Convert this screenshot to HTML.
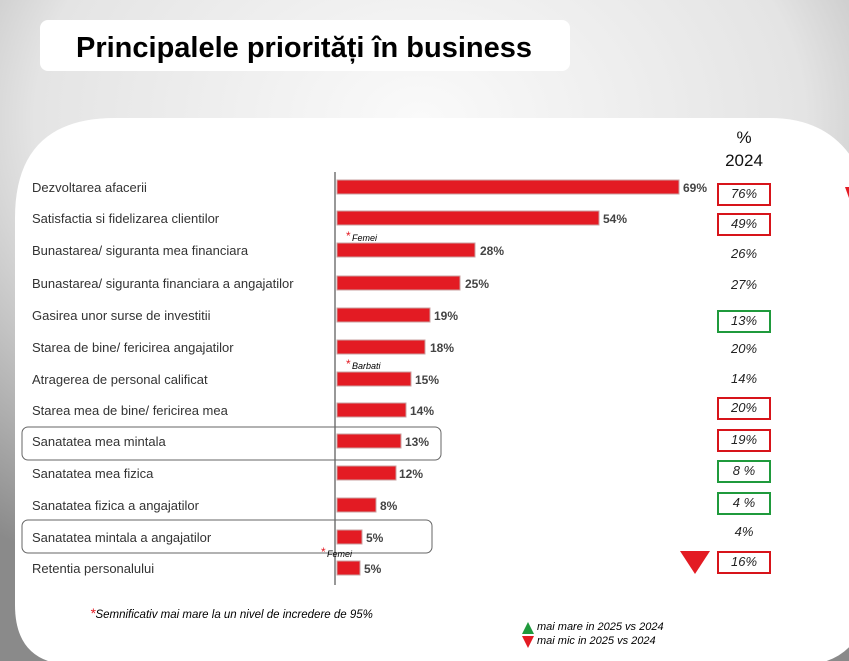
<!DOCTYPE html>
<html><head><meta charset="utf-8"><style>
html,body{margin:0;padding:0;width:849px;height:661px;overflow:hidden}
body{background:radial-gradient(ellipse 700px 520px at 420px 120px,#fafafa 0%,#e4e4e4 55%,#8a8a8a 100%);position:relative;font-family:"Liberation Sans",sans-serif}
svg{display:block}
</style></head><body>
<svg width="849" height="661" style="position:absolute;left:0;top:0" xmlns="http://www.w3.org/2000/svg">
<rect x="40" y="20" width="530" height="51" rx="8" fill="#fff"/>
<text x="76" y="57" font-family="Liberation Sans, sans-serif" font-weight="bold" font-size="29" fill="#000" textLength="456" lengthAdjust="spacingAndGlyphs">Principalele priorități în business</text>
<path d="M115,118 H770 Q849,118 870,200 V600 Q860,665 800,665 H75 Q15,665 15,605 V218 Q15,118 115,118 Z" fill="#fff"/>
<g font-family="Liberation Sans, sans-serif" font-size="13" fill="#333">
<line x1="335" y1="172" x2="335" y2="585" stroke="#777" stroke-width="1.5"/>
<g fill="#e31b23" stroke="#c9a0a0" stroke-width="1">
<rect x="337" y="180" width="342" height="14"/>
<rect x="337" y="211" width="262" height="14"/>
<rect x="337" y="243" width="138" height="14"/>
<rect x="337" y="276" width="123" height="14"/>
<rect x="337" y="308" width="93" height="14"/>
<rect x="337" y="340" width="88" height="14"/>
<rect x="337" y="372" width="74" height="14"/>
<rect x="337" y="403" width="69" height="14"/>
<rect x="337" y="434" width="64" height="14"/>
<rect x="337" y="466" width="59" height="14"/>
<rect x="337" y="498" width="39" height="14"/>
<rect x="337" y="530" width="25" height="14"/>
<rect x="337" y="561" width="23" height="14"/>
</g>
<text x="32" y="192">Dezvoltarea afacerii</text>
<text x="32" y="223">Satisfactia si fidelizarea clientilor</text>
<text x="32" y="255">Bunastarea/ siguranta mea financiara</text>
<text x="32" y="288">Bunastarea/ siguranta financiara a angajatilor</text>
<text x="32" y="320">Gasirea unor surse de investitii</text>
<text x="32" y="352">Starea de bine/ fericirea angajatilor</text>
<text x="32" y="384">Atragerea de personal calificat</text>
<text x="32" y="415">Starea mea de bine/ fericirea mea</text>
<text x="32" y="446">Sanatatea mea mintala</text>
<text x="32" y="478">Sanatatea mea fizica</text>
<text x="32" y="510">Sanatatea fizica a angajatilor</text>
<text x="32" y="542">Sanatatea mintala a angajatilor</text>
<text x="32" y="573">Retentia personalului</text>
<g font-weight="bold" font-size="12" fill="#444">
<text x="683" y="192">69%</text><text x="603" y="223">54%</text><text x="480" y="255">28%</text>
<text x="465" y="288">25%</text><text x="434" y="320">19%</text><text x="430" y="352">18%</text>
<text x="415" y="384">15%</text><text x="410" y="415">14%</text><text x="405" y="446">13%</text>
<text x="399" y="478">12%</text><text x="380" y="510">8%</text><text x="366" y="542">5%</text><text x="364" y="573">5%</text>
</g>
<rect x="22" y="427" width="419" height="33" rx="6" fill="none" stroke="#666"/>
<rect x="22" y="520" width="410" height="33" rx="6" fill="none" stroke="#666"/>
<g font-size="9" font-style="italic" fill="#000"><text x="352" y="241">Femei</text><text x="352" y="369">Barbati</text><text x="327" y="557">Femei</text></g>
<g fill="#e31b23" font-size="12"><text x="346" y="240">*</text><text x="346" y="368">*</text><text x="321" y="556">*</text></g>
<text x="744" y="143" text-anchor="middle" font-size="17" fill="#111">%</text>
<text x="744" y="166" text-anchor="middle" font-size="17" fill="#111">2024</text>
<g font-style="italic" font-size="13" fill="#222" text-anchor="middle">
<text x="744" y="198">76%</text><text x="744" y="228">49%</text><text x="744" y="258">26%</text>
<text x="744" y="289">27%</text><text x="744" y="325">13%</text><text x="744" y="353">20%</text>
<text x="744" y="383">14%</text><text x="744" y="412">20%</text><text x="744" y="444">19%</text>
<text x="744" y="475">8 %</text><text x="744" y="507">4 %</text><text x="744" y="536">4%</text><text x="744" y="566">16%</text>
</g>
<g fill="none" stroke-width="2">
<rect x="718" y="184" width="52" height="21" stroke="#d7141a"/>
<rect x="718" y="214" width="52" height="21" stroke="#d7141a"/>
<rect x="718" y="311" width="52" height="21" stroke="#1f9a3c"/>
<rect x="718" y="398" width="52" height="21" stroke="#d7141a"/>
<rect x="718" y="430" width="52" height="21" stroke="#d7141a"/>
<rect x="718" y="461" width="52" height="21" stroke="#1f9a3c"/>
<rect x="718" y="493" width="52" height="21" stroke="#1f9a3c"/>
<rect x="718" y="552" width="52" height="21" stroke="#d7141a"/>
</g>
<polygon points="680,551 710,551 695,574" fill="#e31b23"/>
<polygon points="845,187 849,187 849,198" fill="#e31b23"/>
<text x="90" y="618" font-size="11.5" font-style="italic" fill="#000"><tspan fill="#e31b23" font-size="14">*</tspan>Semnificativ mai mare la un nivel de incredere de 95%</text>
<polygon points="528,622 522,634 534,634" fill="#1f9a3c"/>
<polygon points="522,636 534,636 528,648" fill="#e31b23"/>
<text x="537" y="630" font-size="11" font-style="italic" fill="#000">mai mare in 2025 vs 2024</text>
<text x="537" y="644" font-size="11" font-style="italic" fill="#000">mai mic in  2025 vs 2024</text>
</g>
</svg>
</body></html>
